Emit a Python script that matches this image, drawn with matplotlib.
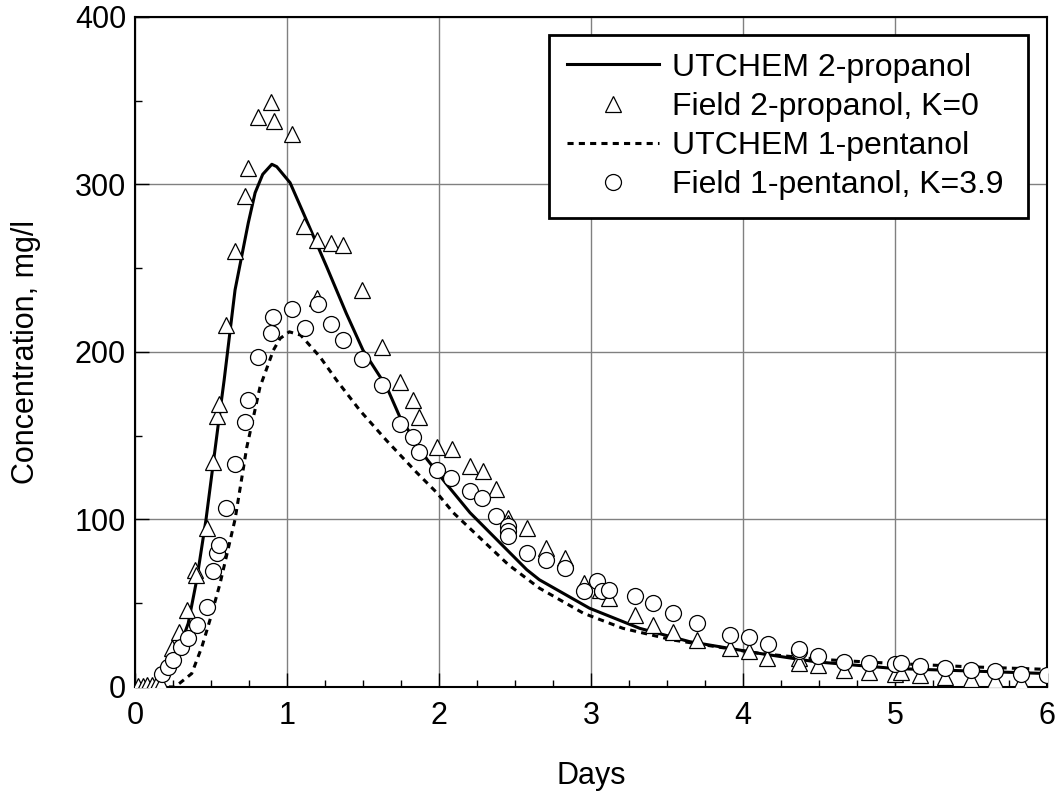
import numpy as np
import matplotlib
matplotlib.use("Agg")
import matplotlib.pyplot as plt
from matplotlib.ticker import MultipleLocator

plt.rcParams['font.family'] = ['Liberation Sans', 'DejaVu Sans']

# UTCHEM simulated curves
sim_prop_days = [0, 0.12, 0.2, 0.263, 0.35, 0.406, 0.467, 0.548, 0.586, 0.658, 0.745, 0.79,
                 0.84, 0.9, 0.932, 1.02, 1.107, 1.26, 1.39, 1.5, 1.656, 1.743, 1.92, 2.05,
                 2.204, 2.577, 2.66, 2.99, 3.32, 3.65, 4.11, 4.48, 5.0, 5.5, 6.0]
sim_prop_conc = [0, 0, 4, 16, 38, 64, 100, 157, 183, 237, 277, 295,
                 306, 312, 310.6, 301, 283, 251, 223, 201, 179, 161, 136, 121,
                 104, 70, 64, 47, 35, 27, 20, 15, 11, 9.5, 8]

sim_pent_days = [0, 0.263, 0.373, 0.44, 0.493, 0.56, 0.658, 0.735, 0.822, 0.91, 0.954, 1.015,
                 1.09, 1.217, 1.327, 1.48, 1.656, 1.853, 1.985, 2.094, 2.456, 2.66, 2.95,
                 3.21, 3.54, 4.11, 4.5, 5.0, 5.5, 6.0]
sim_pent_conc = [0, 0, 8, 24, 40, 62, 100, 143, 179, 201, 208, 212,
                 210, 197, 183, 165, 147, 128, 116, 104, 73, 59, 44,
                 35, 28, 20, 16.5, 14, 12, 10.5]

# field samples, 2-propanol (K=0)
field_prop_days = [0.02, 0.05, 0.08, 0.11, 0.14, 0.17,
                   0.24, 0.29, 0.345, 0.395, 0.40, 0.476, 0.515, 0.54, 0.555,
                   0.60, 0.66, 0.724, 0.743, 0.807, 0.893, 0.914, 1.035,
                   1.11, 1.20, 1.20, 1.288, 1.366, 1.496, 1.623, 1.743, 1.827, 1.87,
                   1.985, 2.083, 2.204, 2.287, 2.375, 2.456, 2.456, 2.577, 2.704, 2.83,
                   2.954, 3.06, 3.12, 3.29, 3.41, 3.537, 3.70, 3.914, 4.04, 4.16, 4.37,
                   4.37, 4.495, 4.664, 4.83, 5.0, 5.04, 5.164, 5.33, 5.5, 5.66, 5.83]
field_prop_conc = [0.5, 0.5, 1, 1, 1, 1.5,
                   23, 33, 46, 70, 67, 95, 134, 162, 169,
                   216, 260, 293, 310, 340, 349, 338, 330,
                   275, 267, 232, 265, 264, 237, 203, 182, 171, 161,
                   143, 142, 132, 129, 118, 101, 98, 95, 83, 77,
                   62, 58, 53, 43, 37, 33, 28, 23, 21.5, 17, 17,
                   14.5, 13, 10, 9, 8, 9, 7, 6, 5, 4.4, 3]

# field samples, 1-pentanol (K=3.9)
field_pent_days = [0.175, 0.22, 0.248, 0.30, 0.35, 0.41, 0.476, 0.51, 0.537, 0.555, 0.599,
                   0.66, 0.724, 0.745, 0.807, 0.893, 0.91, 1.035, 1.12, 1.204, 1.288, 1.366,
                   1.496, 1.623, 1.743, 1.827, 1.868, 1.985, 2.077, 2.204, 2.285, 2.375,
                   2.452, 2.452, 2.452, 2.577, 2.704, 2.83, 2.954, 3.037, 3.07, 3.12, 3.29,
                   3.41, 3.537, 3.70, 3.914, 4.04, 4.162, 4.37, 4.37, 4.495, 4.664, 4.83,
                   5.0, 5.04, 5.164, 5.33, 5.5, 5.66, 5.83, 6.0]
field_pent_conc = [8, 12, 16, 24, 29, 37, 48, 69, 80, 85, 107,
                   133, 158, 171, 197, 211.5, 221, 225.4, 214, 228.6, 216.5, 207,
                   195.6, 180, 157, 149, 140, 129.4, 125, 117, 113, 102,
                   96, 93, 90, 80, 76, 71, 57, 63, 57, 58, 54,
                   50, 44, 38, 31, 29.7, 25.5, 21.5, 22.5, 18.3, 15, 14,
                   13.6, 14, 12.4, 11.4, 10.4, 9.6, 8, 7]

fig = plt.figure(figsize=(10.55, 7.96), dpi=100)
ax = fig.add_axes([0.128, 0.137, 0.8644, 0.8418])

ax.plot(sim_prop_days, sim_prop_conc, color='black', lw=2.2, label='UTCHEM 2-propanol', zorder=3)
ax.plot(field_prop_days, field_prop_conc, ls='none', marker='^', ms=12, mfc='white',
        mec='black', mew=0.9, label='Field 2-propanol, K=0', zorder=4)
ax.plot(sim_pent_days, sim_pent_conc, color='black', lw=2.2, ls=(0, (2, 1.7)),
        label='UTCHEM 1-pentanol', zorder=3)
ax.plot(field_pent_days, field_pent_conc, ls='none', marker='o', ms=11.5, mfc='white',
        mec='black', mew=0.9, label='Field 1-pentanol, K=3.9', zorder=5)

ax.set_xlim(0, 6)
ax.set_ylim(0, 400)
ax.xaxis.set_major_locator(MultipleLocator(1))
ax.xaxis.set_minor_locator(MultipleLocator(0.25))
ax.yaxis.set_major_locator(MultipleLocator(100))
ax.yaxis.set_minor_locator(MultipleLocator(50))
ax.tick_params(which='both', direction='in', width=1, labelsize=22)
ax.tick_params(which='major', length=10)
ax.tick_params(axis='x', which='major', pad=10)
ax.tick_params(axis='y', which='major', pad=6.5)
ax.tick_params(which='minor', length=5)
ax.grid(True, which='major', color='#808080', lw=1)
for s in ax.spines.values():
    s.set_linewidth(1.5)

ax.set_xlabel('Days', fontsize=22, labelpad=22)
ax.set_ylabel('Concentration, mg/l', fontsize=22, labelpad=24)

# legend box stretched to a fixed width in the upper right
leg = ax.legend(loc='upper right', bbox_to_anchor=(0.454, 0.703, 0.525, 0.27), mode='expand',
                fontsize=23, frameon=True, fancybox=False, edgecolor='black', framealpha=1,
                handlelength=2.9, handletextpad=0.4, labelspacing=0.29,
                borderaxespad=0, borderpad=0.55)
leg.get_frame().set_linewidth(2)

fig.savefig('out.png', dpi=100)
